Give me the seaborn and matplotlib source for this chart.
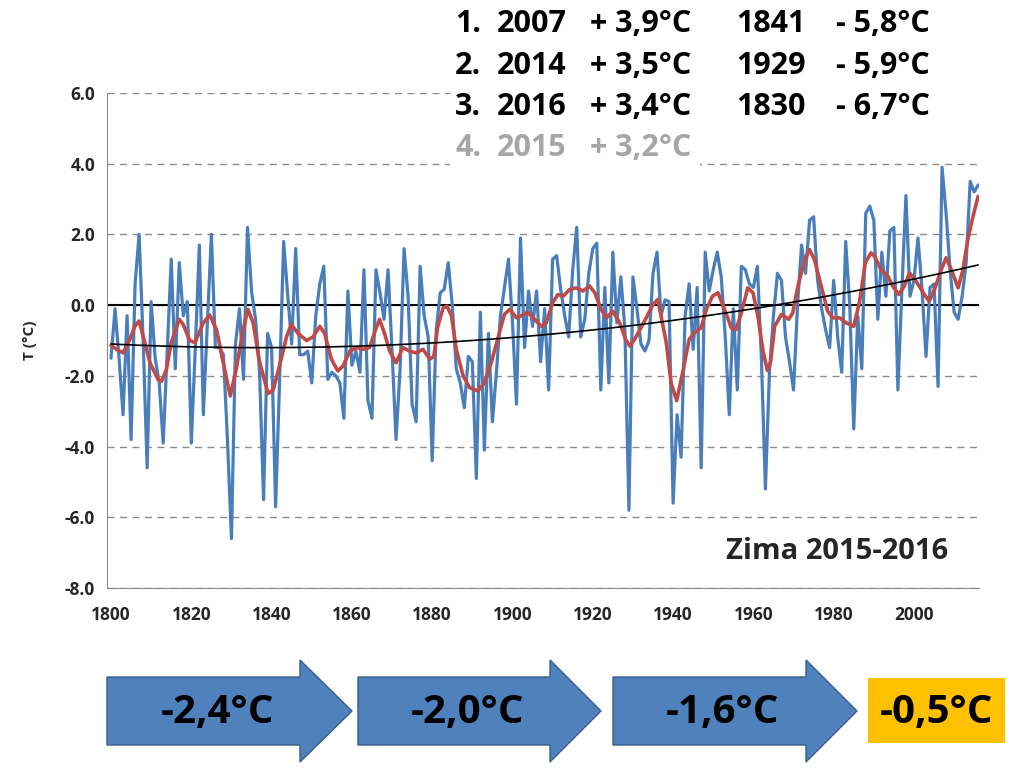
import numpy as np
import matplotlib.pyplot as plt
import seaborn as sns
from matplotlib.patches import Polygon, Rectangle
from matplotlib.ticker import FormatStrFormatter

# winter mean temperature (°C), one value per year from 1800
first_year = 1800
winter_temp = [
    -1.5, -0.1, -1.5, -3.1, -0.3, -3.8, 0.6, 2.0, -1.0, -4.6,      # 1800
    0.1, -1.5, -2.2, -3.9, -1.3, 1.3, -1.8, 1.2, -0.3, 0.1,        # 1810
    -3.9, -1.2, 1.7, -3.1, -0.5, 2.0, -1.2, -1.2, -1.4, -3.8,      # 1820
    -6.6, -1.1, -0.1, -2.1, 2.2, 0.4, -0.4, -1.9, -5.5, -0.8,      # 1830
    -1.2, -5.7, -2.1, 1.8, 0.3, -1.1, 1.6, -1.4, -1.4, -1.3,       # 1840
    -2.2, -0.3, 0.6, 1.1, -2.1, -1.9, -2.0, -2.2, -3.2, 0.4,       # 1850
    -1.7, -1.3, -1.9, 1.0, -2.7, -3.2, 1.0, 0.35, -0.4, 1.0,       # 1860
    -1.3, -3.8, -1.8, 1.6, 0.25, -2.8, -3.3, 1.1, -0.3, -0.9,      # 1870
    -4.4, -0.7, 0.35, 0.45, 1.2, 0.0, -1.8, -2.2, -2.9, -1.45,     # 1880
    -1.6, -4.9, -0.2, -4.1, -0.8, -3.3, -1.9, -0.3, 0.5, 1.3,      # 1890
    -0.5, -2.8, 1.9, -1.2, 0.4, -0.6, 0.4, -1.6, -0.1, -2.4,       # 1900
    1.3, 1.4, 0.45, -0.3, -0.9, 1.0, 2.2, -0.9, -0.4, 0.9,         # 1910
    1.6, 1.75, -2.4, 0.5, -2.2, 1.5, -0.5, 0.8, -0.7, -5.8,        # 1920
    0.8, -0.1, -1.1, -1.3, -1.0, 0.9, 1.5, -0.3, 0.15, 0.1,        # 1930
    -5.6, -3.1, -4.3, -0.3, 0.6, -1.25, 0.5, -4.6, 1.5, 0.4,       # 1940
    1.0, 1.5, 0.8, -0.9, -3.1, -0.1, -2.4, 1.1, 1.0, 0.6,          # 1950
    0.5, 1.1, -1.5, -5.2, -1.9, -0.3, 0.9, 0.7, -0.9, -1.6,        # 1960
    -2.4, 0.0, 1.7, 0.9, 2.4, 2.5, 0.7, -0.1, -0.7, -1.2,          # 1970
    0.7, -0.9, -1.9, 1.8, 0.0, -3.5, -0.3, -1.8, 2.6, 2.8,         # 1980
    2.4, -0.4, 1.5, 0.25, 2.1, 2.2, -2.4, 0.45, 3.1, 0.25,         # 1990
    0.7, 1.9, 0.45, -1.45, 0.5, 0.6, -2.3, 3.9, 2.6, 1.0,          # 2000
    -0.2, -0.4, 0.25, 1.2, 3.5, 3.2, 3.4,                          # 2010
]

# smoothed curve (red)
smooth_years = [
    1800.0, 1801.4, 1803.0, 1804.7, 1805.9, 1807.0, 1808.0, 1809.7, 1811.7, 1812.6,
    1813.8, 1815.0, 1817.0, 1818.0, 1819.6, 1820.9, 1823.0, 1824.6, 1826.3, 1827.9,
    1829.7, 1831.2, 1832.9, 1834.1, 1835.4, 1837.0, 1839.1, 1840.4, 1842.0, 1843.7,
    1844.9, 1846.6, 1848.7, 1850.3, 1852.0, 1853.2, 1854.9, 1856.5, 1857.8, 1859.5,
    1861.1, 1862.8, 1864.4, 1865.9, 1866.9, 1868.2, 1869.4, 1871.0, 1872.7, 1874.4,
    1876.0, 1877.7, 1879.4, 1880.4, 1881.4, 1882.7, 1883.7, 1884.8, 1886.0, 1887.7,
    1889.3, 1891.4, 1893.0, 1894.7, 1896.4, 1898.0, 1899.3, 1901.0, 1902.2, 1903.8,
    1905.5, 1907.2, 1908.4, 1910.0, 1911.3, 1912.6, 1914.2, 1915.9, 1917.5, 1919.2,
    1920.5, 1922.1, 1923.4, 1925.0, 1926.7, 1928.2, 1929.2, 1930.4, 1932.0, 1933.3,
    1935.0, 1936.2, 1937.0, 1938.3, 1939.5, 1940.9, 1942.4, 1944.0, 1945.3, 1947.0,
    1948.3, 1949.8, 1951.2, 1952.8, 1954.5, 1955.7, 1957.0, 1958.6, 1959.9, 1961.1,
    1962.4, 1963.5, 1964.3, 1965.3, 1967.0, 1968.8, 1969.8, 1971.1, 1972.8, 1974.0,
    1975.2, 1976.9, 1978.5, 1979.8, 1981.5, 1983.1, 1985.0, 1986.4, 1987.9, 1989.3,
    1990.2, 1991.8, 1993.5, 1994.7, 1996.2, 1997.6, 1998.9, 2000.5, 2002.6, 2003.8,
    2005.1, 2006.8, 2008.0, 2009.3, 2011.0, 2012.2, 2013.4, 2014.7, 2016.0,
]
smooth_temp = [
    -1.14, -1.25, -1.35, -0.97, -0.6, -0.45, -0.88, -1.63, -2.1, -2.15,
    -1.82, -1.06, -0.4, -0.55, -1.0, -1.06, -0.5, -0.28, -0.7, -1.6,
    -2.57, -1.8, -0.7, -0.12, -0.5, -1.6, -2.5, -2.4, -1.7, -0.9,
    -0.55, -0.8, -1.0, -0.9, -0.6, -0.8, -1.53, -1.86, -1.72, -1.3,
    -1.2, -1.25, -1.2, -0.69, -0.4, -0.83, -1.3, -1.63, -1.2, -1.3,
    -1.35, -1.25, -1.53, -1.45, -0.6, -0.08, -0.03, -0.3, -1.25, -2.0,
    -2.33, -2.43, -2.2, -1.63, -0.92, -0.26, -0.12, -0.36, -0.3, -0.2,
    -0.4, -0.6, -0.5, 0.07, 0.3, 0.25, 0.44, 0.49, 0.4, 0.54,
    0.35, -0.12, -0.36, -0.17, -0.5, -0.97, -1.16, -0.97, -0.64, -0.36,
    0.02, 0.16, -0.3, -1.06, -2.2, -2.7, -1.9, -0.97, -0.78, -0.64,
    -0.12, 0.25, 0.35, -0.12, -0.64, -0.69, -0.22, 0.49, 0.35, -0.3,
    -1.3, -1.85, -1.6, -0.6, -0.26, -0.4, -0.22, 0.54, 1.29, 1.57,
    1.29, 0.54, -0.17, -0.36, -0.36, -0.5, -0.6, 0.07, 1.2, 1.48,
    1.38, 1.0, 0.82, 0.54, 0.3, 0.54, 0.91, 0.68, 0.3, 0.11,
    0.44, 1.0, 1.34, 1.0, 0.49, 1.0, 1.85, 2.51, 3.08,
]

x_ticks = list(range(1800, 2001, 20))
y_ticks = [-8, -6, -4, -2, 0, 2, 4, 6]

ranking_rows = [
    ["1.", "2007", "+ 3,9°C", "1841", "- 5,8°C"],
    ["2.", "2014", "+ 3,5°C", "1929", "- 5,9°C"],
    ["3.", "2016", "+ 3,4°C", "1830", "- 6,7°C"],
    ["4.", "2015", "+ 3,2°C"],
]
period_labels = ["-2,4°C", "-2,0°C", "-1,6°C", "-0,5°C"]
title_text = "Zima 2015-2016"

years = np.arange(first_year, first_year + len(winter_temp))

sns.set_style("white")
plt.rcParams["font.family"] = ["Open Sans", "DejaVu Sans"]
plt.rcParams["axes.unicode_minus"] = False

W, H = 1023, 768
fig = plt.figure(figsize=(W / 100, H / 100), dpi=100)
ax = fig.add_axes([107 / W, 1 - 588 / H, (979 - 107) / W, (588 - 93) / H])

BLUE = "#4a7ebb"
RED = "#be4b48"

sns.lineplot(x=years, y=winter_temp, color=BLUE, linewidth=2.3, ax=ax, zorder=3)
sns.lineplot(x=smooth_years, y=smooth_temp, color=RED, linewidth=2.6, ax=ax, zorder=4, sort=False)
sns.regplot(x=years, y=np.array(winter_temp), order=2, ci=None, scatter=False,
            line_kws={"color": "black", "linewidth": 1.2, "zorder": 5}, ax=ax)
ax.axhline(0, color="black", linewidth=1.5, zorder=2)

ax.set_xlim(1799.0, 2016.2)
ax.set_ylim(-8, 6)
ax.set_xticks(x_ticks)
ax.set_yticks(y_ticks)
ax.yaxis.set_major_formatter(FormatStrFormatter("%.1f"))
ax.set_xlabel("")
ax.set_ylabel("T (°C)", fontsize=11, fontweight="bold", labelpad=20)
ax.yaxis.grid(True, linestyle=(0, (5, 4)), color="#8c8c8c", linewidth=1)
ax.xaxis.grid(False)
for side in ["top", "right"]:
    ax.spines[side].set_visible(False)
for side in ["left", "bottom"]:
    ax.spines[side].set_color("#8c8c8c")
ax.tick_params(axis="both", direction="out", length=5, color="#8c8c8c", width=1)
ax.tick_params(axis="x", pad=8)
for lab in ax.get_xticklabels() + ax.get_yticklabels():
    lab.set_fontweight("bold")
    lab.set_fontsize(12.5)

ax.text(0.965, 0.045, title_text, transform=ax.transAxes, ha="right", va="bottom",
        fontsize=21, fontweight="bold", zorder=10)


def fx(px):
    return px / W


def fy(py):
    return 1 - py / H


# white panel behind the ranking, hides the grid there
fig.patches.append(Rectangle((fx(450), fy(130)), fx(1000) - fx(450), fy(0) - fy(130),
                             transform=fig.transFigure, facecolor="white", edgecolor="none", zorder=2))
fig.patches.append(Rectangle((fx(450), fy(172)), fx(700) - fx(450), fy(130) - fy(172),
                             transform=fig.transFigure, facecolor="white", edgecolor="none", zorder=2))

col_x = [455, 497, 590, 736, 836]
row_y = [24, 66, 107, 148]
for r, row in enumerate(ranking_rows):
    colour = "#a6a6a6" if r == 3 else "black"
    for c, txt in enumerate(row):
        fig.text(fx(col_x[c]), fy(row_y[r]), txt, ha="left", va="center",
                 fontsize=22, fontweight="bold", color=colour, zorder=3)

# period arrows along the bottom
arrow_x = [(107, 300, 352), (358, 550, 601), (613, 806, 857)]
body_top, body_bot, head_top, head_bot, mid = 677, 745, 660, 762, 711
for (x0, xb, xt), label in zip(arrow_x, period_labels[:3]):
    pts = [(x0, body_top), (xb, body_top), (xb, head_top), (xt, mid),
           (xb, head_bot), (xb, body_bot), (x0, body_bot)]
    fig.patches.append(Polygon([(fx(x), fy(y)) for x, y in pts], closed=True,
                               transform=fig.transFigure, facecolor="#4f81bd",
                               edgecolor="#385d8a", linewidth=1.0, zorder=2))
    fig.text(fx(x0 + 0.45 * (xt - x0)), fy(mid + 2), label, ha="center", va="center",
             fontsize=29, fontweight="bold", color="black", zorder=3)

fig.patches.append(Rectangle((fx(868), fy(743)), fx(1005) - fx(868), fy(678) - fy(743),
                             transform=fig.transFigure, facecolor="#ffc000", edgecolor="none", zorder=2))
fig.text(fx(936), fy(mid + 2), period_labels[3], ha="center", va="center",
         fontsize=29, fontweight="bold", color="black", zorder=3)

fig.savefig("out.png", dpi=100, facecolor="white")
